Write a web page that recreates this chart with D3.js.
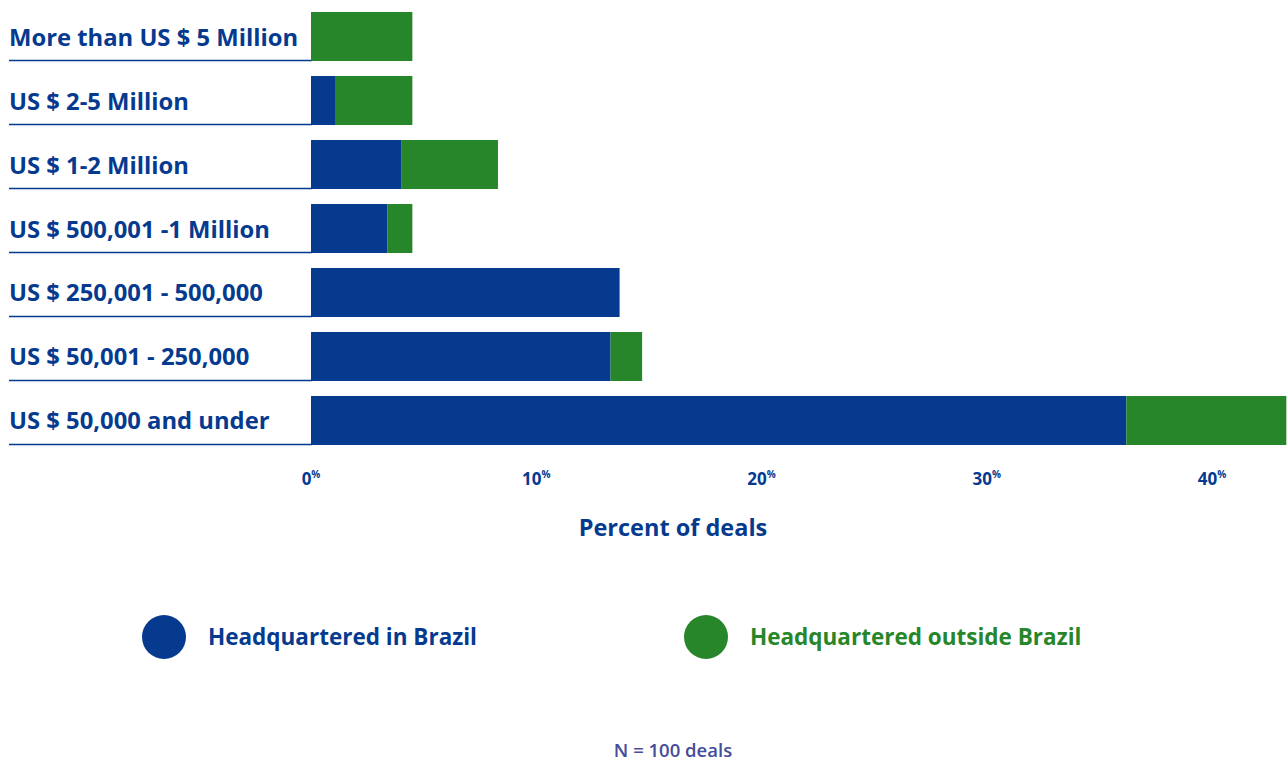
<!DOCTYPE html>
<html>
<head>
<meta charset="utf-8">
<script src="https://cdn.jsdelivr.net/npm/d3@7"></script>
<style>
  body { margin: 0; background: #fff; }
  svg text { font-family: "Open Sans", "Noto Sans", sans-serif; font-weight: 700; }
</style>
</head>
<body>
<div class="chart"></div>
<script>
// deal size categories, top to bottom
const categories = [
  'More than US $ 5 Million',
  'US $ 2-5 Million',
  'US $ 1-2 Million',
  'US $ 500,001 -1 Million',
  'US $ 250,001 - 500,000',
  'US $ 50,001 - 250,000',
  'US $ 50,000 and under',
];
const inBrazil = [0, 1.1, 4.0, 3.4, 13.7, 13.3, 36.2];
const outsideBrazil = [4.5, 3.4, 4.3, 1.1, 0, 1.4, 7.1];
const tickValues = [0, 10, 20, 30, 40];
const seriesNames = ['Headquartered in Brazil', 'Headquartered outside Brazil'];

const blue = '#053a8f';
const green = '#28862a';

const width = 1287;
const height = 761;

const svg = d3.select('.chart').append('svg')
  .attr('width', width)
  .attr('height', height);

const x = d3.scaleLinear().domain([0, 40]).range([311, 1212]);
const y = d3.scaleBand().domain(categories).range([12, 445]).paddingInner(0.234).paddingOuter(0);

const rows = categories.map((c, i) => ({ cat: c, a: inBrazil[i], b: outsideBrazil[i] }));

// underline under each label
svg.append('g').selectAll('line')
  .data(rows)
  .enter()
  .append('line')
  .attr('x1', 9)
  .attr('x2', x(0) + 1)
  .attr('y1', (d) => y(d.cat) + y.bandwidth() - 0.5)
  .attr('y2', (d) => y(d.cat) + y.bandwidth() - 0.5)
  .attr('stroke', blue)
  .attr('stroke-width', 1.5);

const bars = svg.append('g').selectAll('g')
  .data(rows)
  .enter()
  .append('g');

bars.append('rect')
  .attr('x', x(0))
  .attr('y', (d) => y(d.cat))
  .attr('width', (d) => x(d.a) - x(0))
  .attr('height', y.bandwidth())
  .attr('fill', blue);

bars.append('rect')
  .attr('x', (d) => x(d.a))
  .attr('y', (d) => y(d.cat))
  .attr('width', (d) => x(d.a + d.b) - x(d.a))
  .attr('height', y.bandwidth())
  .attr('fill', green);

// category labels
bars.append('text')
  .attr('x', 9)
  .attr('y', (d) => y(d.cat) + y.bandwidth() / 2 + 9)
  .attr('fill', blue)
  .style('font-size', '23.8px')
  .text((d) => d.cat);

// x axis ticks with superscript %
const ticks = svg.append('g').selectAll('text')
  .data(tickValues)
  .enter()
  .append('text')
  .attr('x', (d) => x(d))
  .attr('y', 485)
  .attr('text-anchor', 'middle')
  .attr('fill', blue)
  .style('font-size', '17px');

ticks.append('tspan').text((d) => d);
ticks.append('tspan')
  .attr('dy', -7)
  .style('font-size', '10px')
  .text('%');

svg.append('text')
  .attr('x', 673)
  .attr('y', 536)
  .attr('text-anchor', 'middle')
  .attr('fill', blue)
  .style('font-size', '23.5px')
  .text('Percent of deals');

// legend
const legend = svg.append('g').selectAll('g')
  .data(seriesNames)
  .enter()
  .append('g')
  .attr('transform', (d, i) => `translate(${i === 0 ? 164 : 706},637)`);

legend.append('circle')
  .attr('r', 22)
  .attr('fill', (d, i) => (i === 0 ? blue : green));

legend.append('text')
  .attr('x', 44)
  .attr('y', 8)
  .attr('fill', (d, i) => (i === 0 ? blue : green))
  .style('font-size', '22.5px')
  .text((d) => d);

svg.append('text')
  .attr('x', 673)
  .attr('y', 757)
  .attr('text-anchor', 'middle')
  .attr('fill', '#454c99')
  .style('font-size', '18.5px')
  .style('font-weight', 600)
  .text('N = 100 deals');
</script>
</body>
</html>
